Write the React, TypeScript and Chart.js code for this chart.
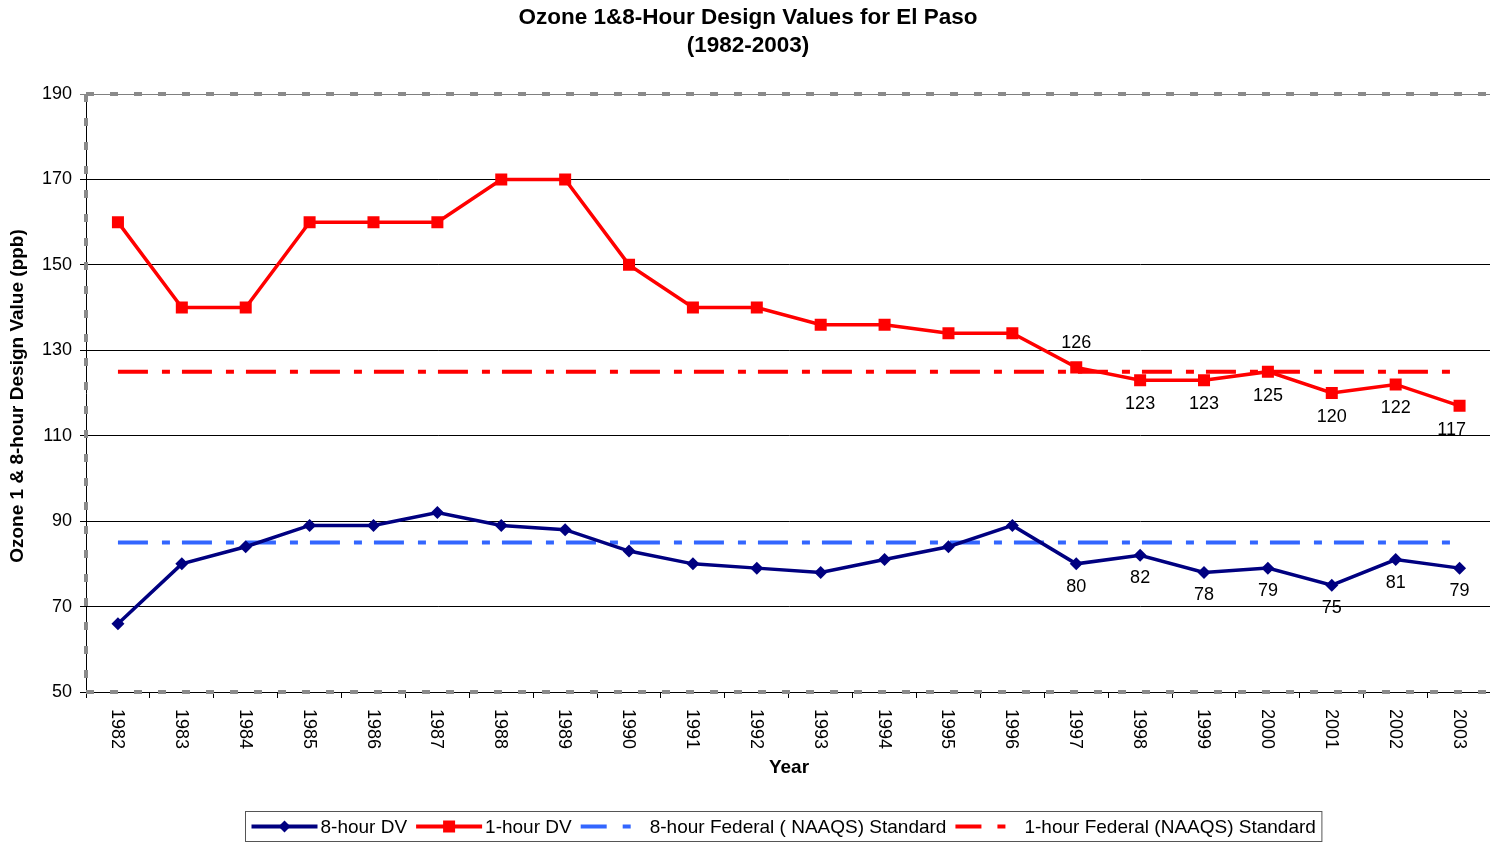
import React, { useEffect, useRef } from 'react';
import { Chart, registerables } from 'chart.js';

Chart.register(...registerables);

const years = ['1982', '1983', '1984', '1985', '1986', '1987', '1988', '1989', '1990', '1991', '1992', '1993', '1994', '1995', '1996', '1997', '1998', '1999', '2000', '2001', '2002', '2003'];
const eightHourDV = [66, 80, 84, 89, 89, 92, 89, 88, 83, 80, 79, 78, 81, 84, 89, 80, 82, 78, 79, 75, 81, 79];
const oneHourDV = [160, 140, 140, 160, 160, 160, 170, 170, 150, 140, 140, 136, 136, 134, 134, 126, 123, 123, 125, 120, 122, 117];
const eightHourStd = [85, 85, 85, 85, 85, 85, 85, 85, 85, 85, 85, 85, 85, 85, 85, 85, 85, 85, 85, 85, 85, 85];
const oneHourStd = [125, 125, 125, 125, 125, 125, 125, 125, 125, 125, 125, 125, 125, 125, 125, 125, 125, 125, 125, 125, 125, 125];
const yTicks = [50, 70, 90, 110, 130, 150, 170, 190];
const labelStartIndex = 15;
const oneHourLabelSide = ['above', 'below', 'below', 'below', 'below', 'below', 'below'];
const eightHourLabelSide = ['below', 'below', 'below', 'below', 'below', 'below', 'below'];

const titleLines = ['Ozone 1&8-Hour Design Values for El Paso', '(1982-2003)'];
const xTitle = 'Year';
const yTitle = 'Ozone 1 & 8-hour Design Value (ppb)';
const seriesNames = ['8-hour DV', '1-hour DV', '8-hour Federal ( NAAQS) Standard', '1-hour Federal (NAAQS) Standard'];

const FONT = '"Liberation Sans", Arial, sans-serif';
const STD_DASH = [30, 14, 8, 12];
const CANVAS_W = 1500;

const overlayPlugin = {
  id: 'overlay',
  beforeDatasetsDraw(chart: any) {
    const { ctx, chartArea: a } = chart;
    ctx.save();
    ctx.strokeStyle = '#8a8a8a';
    ctx.lineWidth = 4;
    ctx.setLineDash([8, 16]);
    ctx.beginPath();
    ctx.moveTo(a.left, a.top);
    ctx.lineTo(a.right, a.top);
    ctx.moveTo(a.left, a.bottom);
    ctx.lineTo(a.right, a.bottom);
    ctx.moveTo(a.left, a.top);
    ctx.lineTo(a.left, a.bottom);
    ctx.stroke();
    ctx.restore();
  },
  afterDatasetsDraw(chart: any) {
    const { ctx } = chart;
    ctx.save();
    ctx.font = `18px ${FONT}`;
    ctx.fillStyle = '#000';
    ctx.textAlign = 'center';
    ctx.textBaseline = 'middle';
    const drawLabels = (dsIndex: number, values: number[], sides: string[], above: number, below: number) => {
      const meta = chart.getDatasetMeta(dsIndex);
      for (let i = labelStartIndex; i < values.length; i++) {
        const pt = meta.data[i];
        const side = sides[i - labelStartIndex];
        const dy = side === 'above' ? above : below;
        let x = pt.x;
        if (i === values.length - 1 && dsIndex === 1) x -= 8;
        ctx.fillText(String(values[i]), x, pt.y + dy);
      }
    };
    drawLabels(1, oneHourDV, oneHourLabelSide, -24, 24);
    drawLabels(0, eightHourDV, eightHourLabelSide, -24, 23);
    ctx.restore();
  },
  afterDraw(chart: any) {
    const { ctx, chartArea: a } = chart;
    const xScale = chart.scales.x;
    ctx.save();
    ctx.fillStyle = '#000';
    // title
    ctx.font = `bold 22.5px ${FONT}`;
    ctx.textAlign = 'center';
    ctx.textBaseline = 'middle';
    ctx.fillText(titleLines[0], 748, 18);
    ctx.fillText(titleLines[1], 748, 46);
    // x tick labels rotated clockwise
    ctx.font = `18px ${FONT}`;
    years.forEach((yr, i) => {
      const x = xScale.getPixelForValue(i);
      ctx.save();
      ctx.translate(x - 1, a.bottom + 17);
      ctx.rotate(Math.PI / 2);
      ctx.textAlign = 'left';
      ctx.textBaseline = 'middle';
      ctx.fillText(yr, 0, 0);
      ctx.restore();
    });
    // axis titles
    ctx.font = `bold 19px ${FONT}`;
    ctx.textAlign = 'center';
    ctx.textBaseline = 'middle';
    ctx.fillText(xTitle, 789, 768);
    ctx.save();
    ctx.translate(18, 396);
    ctx.rotate(-Math.PI / 2);
    ctx.fillText(yTitle, 0, 0);
    ctx.restore();

    // legend
    ctx.font = `19px ${FONT}`;
    const sampleW = 66;
    const textGap = 3;
    const itemGap = 9;
    const padX = 6;
    const widths = seriesNames.map((n) => ctx.measureText(n).width);
    let total = padX * 2;
    widths.forEach((w, i) => {
      total += sampleW + textGap + w + (i < widths.length - 1 ? itemGap : 0);
    });
    const boxLeft = Math.round(783 - total / 2) + 0.5;
    const boxTop = 811.5;
    const boxH = 30;
    const cy = boxTop + boxH / 2;
    ctx.strokeStyle = '#555';
    ctx.lineWidth = 1;
    ctx.setLineDash([]);
    ctx.strokeRect(boxLeft, boxTop, total, boxH);
    let x = boxLeft + padX;
    chart.data.datasets.forEach((ds: any, i: number) => {
      ctx.save();
      ctx.strokeStyle = ds.borderColor;
      ctx.lineWidth = 4;
      if (ds.borderDash && ds.borderDash.length) ctx.setLineDash([26, 16, 8, 100]);
      ctx.beginPath();
      ctx.moveTo(x, cy);
      ctx.lineTo(x + sampleW, cy);
      ctx.stroke();
      ctx.restore();
      if (ds.pointRadius > 0) {
        ctx.save();
        ctx.fillStyle = ds.backgroundColor;
        const mx = x + sampleW / 2;
        if (ds.pointStyle === 'rect') {
          ctx.fillRect(mx - 6, cy - 6, 12, 12);
        } else {
          ctx.beginPath();
          ctx.moveTo(mx, cy - 6);
          ctx.lineTo(mx + 6, cy);
          ctx.lineTo(mx, cy + 6);
          ctx.lineTo(mx - 6, cy);
          ctx.closePath();
          ctx.fill();
        }
        ctx.restore();
      }
      ctx.fillStyle = '#000';
      ctx.textAlign = 'left';
      ctx.textBaseline = 'middle';
      ctx.fillText(seriesNames[i], x + sampleW + textGap, cy + 1);
      x += sampleW + textGap + widths[i] + itemGap;
    });
    ctx.restore();
  },
};

export default function App() {
  const canvasRef = useRef<HTMLCanvasElement | null>(null);

  useEffect(() => {
    if (!canvasRef.current) return;
    const chart = new Chart(canvasRef.current, {
      type: 'line',
      data: {
        labels: years,
        datasets: [
          {
            label: seriesNames[0],
            data: eightHourDV,
            borderColor: '#000080',
            backgroundColor: '#000080',
            borderWidth: 3.5,
            pointStyle: 'rectRot',
            pointRadius: 6.5,
            pointBorderWidth: 0,
            tension: 0,
          },
          {
            label: seriesNames[1],
            data: oneHourDV,
            borderColor: '#FF0000',
            backgroundColor: '#FF0000',
            borderWidth: 3.5,
            pointStyle: 'rect',
            pointRadius: 8.5,
            pointBorderWidth: 0,
            tension: 0,
          },
          {
            label: seriesNames[2],
            data: eightHourStd,
            borderColor: '#3366FF',
            backgroundColor: '#3366FF',
            borderWidth: 4,
            borderDash: STD_DASH,
            pointRadius: 0,
            tension: 0,
          },
          {
            label: seriesNames[3],
            data: oneHourStd,
            borderColor: '#FF0000',
            backgroundColor: '#FF0000',
            borderWidth: 4,
            borderDash: STD_DASH,
            pointRadius: 0,
            tension: 0,
          },
        ],
      },
      options: {
        responsive: false,
        animation: false,
        devicePixelRatio: 1,
        layout: { padding: { left: 0, right: 0, top: 94, bottom: 0 } },
        plugins: {
          legend: { display: false },
          title: { display: false },
          tooltip: { enabled: false },
        },
        scales: {
          x: {
            type: 'category',
            offset: true,
            grid: {
              display: true,
              drawOnChartArea: false,
              drawTicks: true,
              tickLength: 6,
              offset: true,
              color: '#000',
            },
            border: { display: true, color: '#000', width: 1 },
            ticks: { display: false },
            afterFit: (scale: any) => {
              scale.height = 151;
            },
          },
          y: {
            min: 50,
            max: 190,
            afterBuildTicks: (scale: any) => {
              scale.ticks = yTicks.map((v) => ({ value: v }));
            },
            grid: {
              color: (c: any) => (c.tick && c.tick.value === 190 ? '#808080' : '#000'),
              lineWidth: 1,
              tickLength: 6,
            },
            border: { display: true, color: '#000', width: 1 },
            ticks: {
              font: { family: FONT, size: 18 },
              color: '#000',
              padding: 8,
            },
            afterFit: (scale: any) => {
              scale.width = 86;
            },
          },
        },
      } as any,
      plugins: [overlayPlugin],
    });
    return () => chart.destroy();
  }, []);

  return (
    <div style={{ position: 'absolute', left: 0, top: 0, width: 1490, height: 843, background: '#fff', overflow: 'hidden' }}>
      <canvas ref={canvasRef} width={CANVAS_W} height={843} style={{ width: CANVAS_W, height: 843, display: 'block' }} />
    </div>
  );
}
